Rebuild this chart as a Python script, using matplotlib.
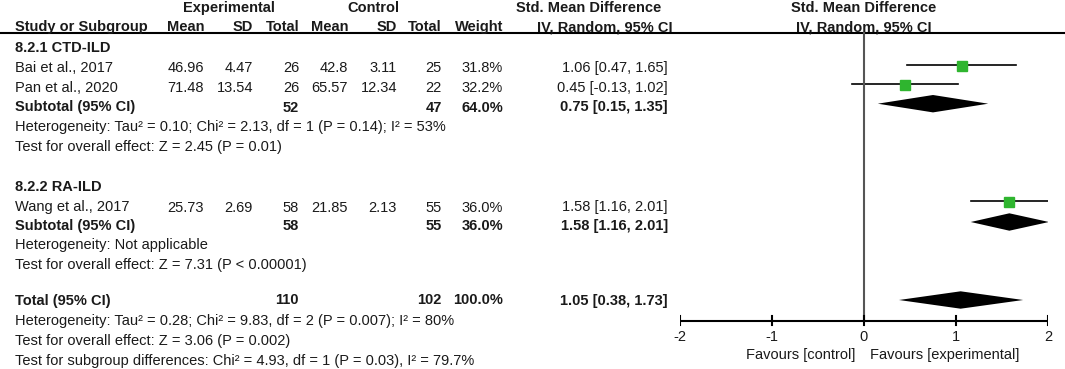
import matplotlib
matplotlib.use("Agg")
from matplotlib import pyplot as plt

plt.rcParams['font.family'] = ['Liberation Sans', 'DejaVu Sans']

# study level data
studies = ["Bai et al., 2017", "Pan et al., 2020", "Wang et al., 2017"]
exp_mean = [46.96, 71.48, 25.73]
exp_sd = [4.47, 13.54, 2.69]
exp_n = [26, 26, 58]
ctl_mean = [42.8, 65.57, 21.85]
ctl_sd = [3.11, 12.34, 2.13]
ctl_n = [25, 22, 55]
weights = [31.8, 32.2, 36.0]
smd = [1.06, 0.45, 1.58]
smd_lo = [0.47, -0.13, 1.16]
smd_hi = [1.65, 1.02, 2.01]

# subgroup / total data
groups = ["8.2.1 CTD-ILD", "8.2.2 RA-ILD"]
sub_exp_n = [52, 58]
sub_ctl_n = [47, 55]
sub_weight = [64.0, 36.0]
sub_smd = [0.75, 1.58]
sub_lo = [0.15, 1.16]
sub_hi = [1.35, 2.01]
tot_exp_n, tot_ctl_n, tot_weight = 110, 102, 100.0
tot_smd, tot_lo, tot_hi = 1.05, 0.38, 1.73

sub_het = ["Heterogeneity: Tau² = 0.10; Chi² = 2.13, df = 1 (P = 0.14); I² = 53%",
           "Heterogeneity: Not applicable"]
sub_test = ["Test for overall effect: Z = 2.45 (P = 0.01)",
            "Test for overall effect: Z = 7.31 (P < 0.00001)"]
tot_notes = ["Heterogeneity: Tau² = 0.28; Chi² = 9.83, df = 2 (P = 0.007); I² = 80%",
             "Test for overall effect: Z = 3.06 (P = 0.002)",
             "Test for subgroup differences: Chi² = 4.93, df = 1 (P = 0.03), I² = 79.7%"]
ticks = [-2, -1, 0, 1, 2]

# layout (pixel rows, column right edges)
W, H = 1065, 369
study_idx = [[0, 1], [2]]
group_rows = [[47.5, 68, 88, 107.5, 127, 147], [187, 207.5, 226, 245, 264.5]]
group_marks = [[65.5, 85, 103.7], [202, 222]]
tot_rows = [300.5, 320.5, 340.5, 360.5]
tot_mark = 300
col_x = [204, 253, 299, 348, 397, 442, 503, 668]
x0 = 15
axis_y = 320.5
fs = 10.5
tc = '#1a1a1a'
green = '#2fb52f'

fig = plt.figure(figsize=(W / 100, H / 100), dpi=100)
ax = fig.add_axes([0, 0, 1, 1])
ax.set_xlim(0, W)
ax.set_ylim(H, 0)
ax.axis('off')

fax = fig.add_axes([680 / W, 0, 368 / W, 1])
fax.set_xlim(-2, 2)
fax.set_ylim(H, 0)
fax.axis('off')


def row_text(y, cells, bold=False):
    w = 'bold' if bold else 'normal'
    for x, s in zip(col_x, cells):
        if s != "":
            ax.text(x, y, s, ha='right', va='center', fontsize=fs, color=tc, fontweight=w)


def diamond(y, est, lo, hi, h=8.7):
    fax.fill([lo, est, hi, est], [y, y - h, y, y + h], color='black', lw=0)


# headers
hb = dict(fontsize=fs, color=tc, fontweight='bold', va='center')
ax.text(229, 8, "Experimental", ha='center', **hb)
ax.text(373, 8, "Control", ha='center', **hb)
ax.text(589, 8, "Std. Mean Difference", ha='center', **hb)
ax.text(605, 27, "IV, Random, 95% CI", ha='center', **hb)
ax.text(x0, 27, "Study or Subgroup", ha='left', **hb)
for x, s in zip(col_x[:7], ["Mean", "SD", "Total", "Mean", "SD", "Total", "Weight"]):
    ax.text(x, 27, s, ha='right', **hb)
fax.text(0, 8, "Std. Mean Difference", ha='center', **hb)
fax.text(0, 27, "IV, Random, 95% CI", ha='center', **hb)
ax.plot([0, W], [33.3, 33.3], color='black', lw=1.5)

# subgroups
for g, rows in enumerate(group_rows):
    marks = group_marks[g]
    ax.text(x0, rows[0], groups[g], ha='left', va='center', fontsize=fs, color=tc, fontweight='bold')
    k = 1
    for i in study_idx[g]:
        y = rows[k]
        ym = marks[k - 1]
        ax.text(x0, y, studies[i], ha='left', va='center', fontsize=fs, color=tc)
        row_text(y, [str(exp_mean[i]), str(exp_sd[i]), str(exp_n[i]),
                     str(ctl_mean[i]), str(ctl_sd[i]), str(ctl_n[i]),
                     f"{weights[i]:.1f}%",
                     f"{smd[i]:.2f} [{smd_lo[i]:.2f}, {smd_hi[i]:.2f}]"])
        fax.plot([smd_lo[i], smd_hi[i]], [ym - 1, ym - 1], color='black', lw=1.2)
        fax.plot(smd[i], ym, marker='s', markersize=6.6, color=green, mec=green)
        k += 1
    y = rows[k]
    ax.text(x0, y, "Subtotal (95% CI)", ha='left', va='center', fontsize=fs, color=tc, fontweight='bold')
    row_text(y, ["", "", str(sub_exp_n[g]), "", "", str(sub_ctl_n[g]),
                 f"{sub_weight[g]:.1f}%",
                 f"{sub_smd[g]:.2f} [{sub_lo[g]:.2f}, {sub_hi[g]:.2f}]"], bold=True)
    diamond(marks[k - 1], sub_smd[g], sub_lo[g], sub_hi[g])
    ax.text(x0, rows[k + 1], sub_het[g], ha='left', va='center', fontsize=fs, color=tc)
    ax.text(x0, rows[k + 2], sub_test[g], ha='left', va='center', fontsize=fs, color=tc)

# total
y = tot_rows[0]
ax.text(x0, y, "Total (95% CI)", ha='left', va='center', fontsize=fs, color=tc, fontweight='bold')
row_text(y, ["", "", str(tot_exp_n), "", "", str(tot_ctl_n), f"{tot_weight:.1f}%",
             f"{tot_smd:.2f} [{tot_lo:.2f}, {tot_hi:.2f}]"], bold=True)
diamond(tot_mark, tot_smd, tot_lo, tot_hi)
for y, s in zip(tot_rows[1:], tot_notes):
    ax.text(x0, y, s, ha='left', va='center', fontsize=fs, color=tc)

# null line and axis
fax.plot([0, 0], [33.3, axis_y], color='#555555', lw=1.5)
fax.plot([ticks[0], ticks[-1]], [axis_y, axis_y], color='black', lw=1.5)
for t in ticks:
    fax.plot([t, t], [axis_y - 4.8, axis_y + 4.8], color='black', lw=1.5)
    fax.text(t, 337, f"{t}", ha='center', va='center', fontsize=fs, color=tc)
fax.text(-0.09, 355.5, "Favours [control]", ha='right', va='center', fontsize=fs, color=tc)
fax.text(0.07, 355.5, "Favours [experimental]", ha='left', va='center', fontsize=fs, color=tc)

fig.savefig("out.png", dpi=100)
